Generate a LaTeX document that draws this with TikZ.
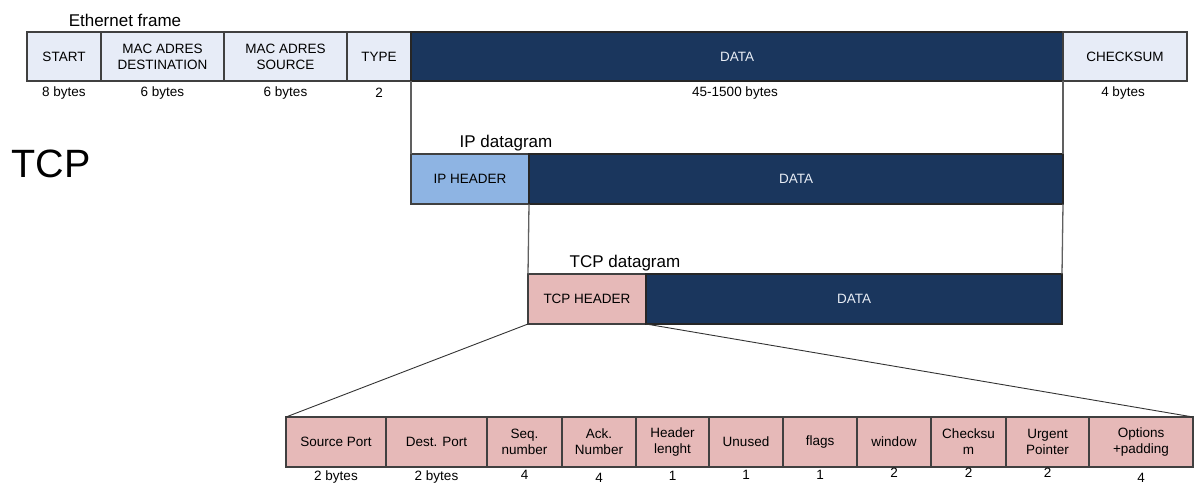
\documentclass[tikz,border=0pt]{standalone}
\usepackage{fontspec}
\setmainfont{Liberation Sans}
\definecolor{ethlight}{HTML}{E7ECF7}
\definecolor{navy}{HTML}{1A365D}
\definecolor{iphead}{HTML}{8EB4E3}
\definecolor{tcppink}{HTML}{E6B9B8}
\definecolor{edge}{HTML}{404040}
\definecolor{conn}{HTML}{606060}
\definecolor{datatext}{HTML}{E8EDF5}
\tikzset{
  cell/.style={draw=edge, line width=1.1pt, inner sep=0pt, outer sep=0pt, align=center,
    font=\fontsize{13.5}{16}\selectfont},
  ethbox/.style={cell, fill=ethlight},
  databox/.style={cell, fill=navy, draw=black!85, text=datatext},
  ipbox/.style={cell, fill=iphead},
  tcpbox/.style={cell, fill=tcppink},
  lbl/.style={inner sep=0pt, font=\fontsize{13.5}{16}\selectfont},
  heading/.style={inner sep=0pt, font=\fontsize{17}{20}\selectfont},
  connline/.style={draw=conn, line width=1.3pt},
  zoomline/.style={draw=black!80, line width=0.9pt},
}
\begin{document}
\begin{tikzpicture}[x=1pt, y=-1pt]
\useasboundingbox (0,0) rectangle (1194,485);

% headings
\node[heading] (ethtitle) at (125,20) {Ethernet frame};
\node[inner sep=0pt, font=\fontsize{39.5}{44}\selectfont] (tcpbig) at (51,164) {TCP};

% Ethernet frame
\node[ethbox, minimum width=74, minimum height=49] (start) at (64,56.5) {START};
\node[ethbox, minimum width=123, minimum height=49] (dst) at (162.5,56.5) {MAC ADRES\\DESTINATION};
\node[ethbox, minimum width=123, minimum height=49] (src) at (285.5,56.5) {MAC ADRES\\SOURCE};
\node[ethbox, minimum width=64, minimum height=49] (type) at (379,56.5) {TYPE};
\node[databox, minimum width=652, minimum height=49] (edata) at (737,56.5) {DATA};
\node[ethbox, minimum width=124, minimum height=49] (chk) at (1125,56.5) {CHECKSUM};

\node[lbl] (lstart) at (64,93) {8 bytes};
\node[lbl] (ldst) at (162.5,93) {6 bytes};
\node[lbl] (lsrc) at (285.5,93) {6 bytes};
\node[lbl] (ltype) at (379,93) {2};
\node[lbl] (ldata) at (735,93) {45-1500 bytes};
\node[lbl] (lchk) at (1123,93) {4 bytes};

% IP datagram
\node[heading] (iptitle) at (506,143) {IP datagram};
\node[ipbox, minimum width=118, minimum height=50] (iph) at (470,179) {IP HEADER};
\node[databox, minimum width=534, minimum height=50] (ipd) at (796,179) {DATA};

% TCP datagram
\node[heading] (tcptitle) at (625,263) {TCP datagram};
\node[tcpbox, minimum width=118, minimum height=50] (tcph) at (587,299) {TCP HEADER};
\node[databox, minimum width=416, minimum height=50] (tcpd) at (854,299) {DATA};

% connectors between levels
\draw[connline] (edata.south west) -- (iph.north west);
\draw[connline] (edata.south east) -- (ipd.north east);
\draw[connline] (iph.south east) -- (tcph.north west);
\draw[connline] (ipd.south east) -- (tcpd.north east);

% TCP header fields
\node[tcpbox, minimum width=100, minimum height=50] (f1) at (336,442) {Source Port};
\node[tcpbox, minimum width=101, minimum height=50] (f2) at (436.5,442) {Dest. Port};
\node[tcpbox, minimum width=75, minimum height=50] (f3) at (524.5,442) {Seq.\\number};
\node[tcpbox, minimum width=74, minimum height=50] (f4) at (599,442) {Ack.\\Number};
\node[tcpbox, minimum width=73, minimum height=50] (f5) at (672.5,442) {Header\\lenght};
\node[tcpbox, minimum width=74, minimum height=50] (f6) at (746,442) {Unused};
\node[tcpbox, minimum width=74, minimum height=50] (f7) at (820,442) {flags};
\node[tcpbox, minimum width=74, minimum height=50] (f8) at (894,442) {window};
\node[tcpbox, minimum width=75, minimum height=50] (f9) at (968.5,442) {Checksu\\m};
\node[tcpbox, minimum width=83, minimum height=50] (f10) at (1047.5,442) {Urgent\\Pointer};
\node[tcpbox, minimum width=104, minimum height=50] (f11) at (1141,442) {Options\\+padding};

\draw[zoomline] (tcph.south west) -- (f1.north west);
\draw[zoomline] (tcph.south east) -- (f11.north east);

\node[lbl] (g1) at (336,477.5) {2 bytes};
\node[lbl] (g2) at (436.5,477.5) {2 bytes};
\node[lbl] (g3) at (524.5,475) {4};
\node[lbl] (g4) at (599,477.5) {4};
\node[lbl] (g5) at (672.5,476) {1};
\node[lbl] (g6) at (746,475) {1};
\node[lbl] (g7) at (820,475) {1};
\node[lbl] (g8) at (894,473) {2};
\node[lbl] (g9) at (968.5,473) {2};
\node[lbl] (g10) at (1047.5,473) {2};
\node[lbl] (g11) at (1141,477.5) {4};
\end{tikzpicture}
\end{document}
